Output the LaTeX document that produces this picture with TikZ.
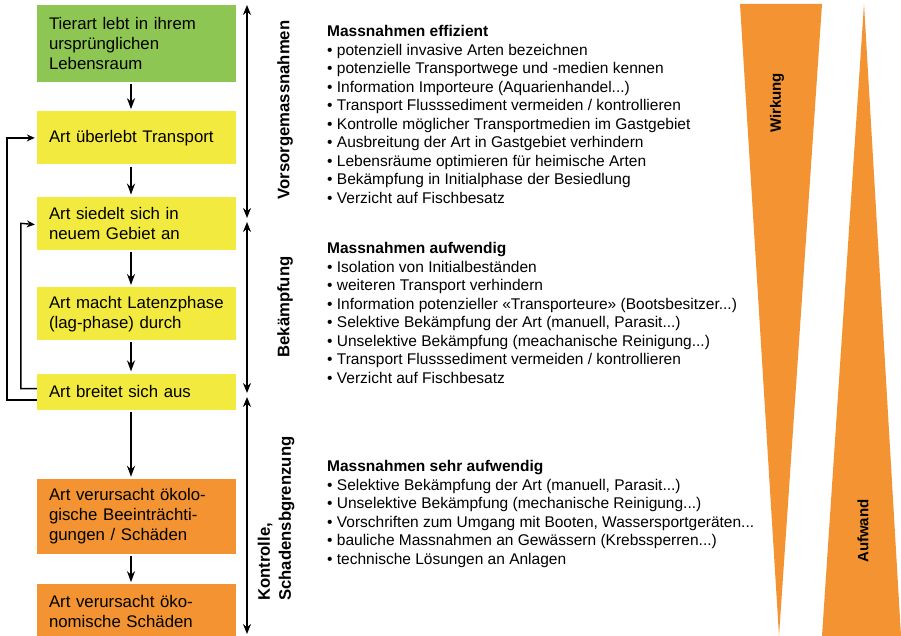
\documentclass[tikz,border=0pt]{standalone}
\usepackage{fontspec}
\setmainfont{Liberation Sans}
\usetikzlibrary{positioning, arrows.meta}
\definecolor{leafgreen}{RGB}{141,198,82}
\definecolor{boxyellow}{RGB}{243,234,64}
\definecolor{boxorange}{RGB}{243,147,50}
\tikzstyle{stage} = [rectangle, 
text width=175pt, 
inner xsep=12pt, 
inner ysep=2pt, 
align=left, 
font=\fontsize{16.8}{20}\selectfont]
\tikzstyle{origin} = [stage, fill=leafgreen]
\tikzstyle{invasion} = [stage, fill=boxyellow]
\tikzstyle{damage} = [stage, fill=boxorange]
\tikzstyle{arrow} = [line width=2pt,-{Stealth[length=11pt,width=8pt]},shorten <=2pt,shorten >=2pt]
\tikzstyle{loopback} = [line width=1.8pt,-{Stealth[length=8pt,width=7pt]},shorten >=2pt]
\tikzstyle{phase} = [line width=2pt,{Stealth[length=10pt,width=8pt]}-{Stealth[length=10pt,width=8pt]}]
\tikzstyle{phaselabel} = [rotate=90, inner sep=0pt, align=left, font=\fontsize{16.7}{21}\selectfont\bfseries]
\tikzstyle{measures} = [anchor=base west, inner sep=0pt, align=left, font=\fontsize{15.5}{18.5}\selectfont]
\tikzstyle{wedgelabel} = [rotate=90, inner sep=0pt, font=\fontsize{15}{18}\selectfont\bfseries]

\begin{document}
\begin{tikzpicture}[x=1pt, y=-1pt]
        \useasboundingbox (0,0) rectangle (901,636);
        % stages of the invasion
        \node (home) [origin, minimum height=77pt] at (136.5,43.5) {Tierart lebt in ihrem\\ursprünglichen\\Lebensraum};
        \node (transport) [invasion, minimum height=53pt, below=29pt of home] {Art überlebt Transport};
        \node (settle) [invasion, minimum height=53pt, below=32pt of transport] {Art siedelt sich in\\neuem Gebiet an};
        \node (lag) [invasion, minimum height=53pt, below=37pt of settle] {Art macht Latenzphase\\(lag-phase) durch};
        \node (spread) [invasion, minimum height=36pt, below=33pt of lag] {Art breitet sich aus};
        \node (eco) [damage, minimum height=75pt, below=69pt of spread] {Art verursacht ökolo-\\gische Beeinträchti-\\gungen / Schäden};
        \node (econ) [damage, minimum height=54pt, below=30pt of eco] {Art verursacht öko-\\nomische Schäden};
        \draw [arrow] ([xshift=-5.5pt]home.south) -- ([xshift=-5.5pt]transport.north);
        \draw [arrow] ([xshift=-5.5pt]transport.south) -- ([xshift=-5.5pt]settle.north);
        \draw [arrow] ([xshift=-5.5pt]settle.south) -- ([xshift=-5.5pt]lag.north);
        \draw [arrow] ([xshift=-5.5pt]lag.south) -- ([xshift=-5.5pt]spread.north);
        \draw [arrow] ([xshift=-5.5pt]spread.south) -- ([xshift=-5.5pt]eco.north);
        \draw [arrow] ([xshift=-5.5pt]eco.south) -- ([xshift=-5.5pt]econ.north);
        % feedback loops
        \draw [loopback] ([yshift=-8pt]spread.west) -| ([xshift=-30pt]transport.west) -- (transport.west);
        \draw [loopback, line width=1.4pt] ([yshift=3pt]spread.west) -| ([xshift=-16pt]settle.west) -- ([yshift=-1.5pt]settle.west);
        % phases
        \coordinate (p0) at (247,5);
        \coordinate (p1) at (247,220);
        \coordinate (p2) at (247,395);
        \coordinate (p3) at (247,634);
        \draw [phase, shorten >=2pt] (p0) -- (p1);
        \draw [phase, shorten <=2pt, shorten >=2pt] (p1) -- (p2);
        \draw [phase, shorten <=2pt] (p2) -- (p3);
        \node (prevent) [phaselabel] at (285,110) {Vorsorgemassnahmen};
        \node (fight) [phaselabel] at (285,307) {Bekämpfung};
        \node (control) [phaselabel, anchor=west] at (276,601) {Kontrolle,\\Schadensbgrenzung};
        % measures (anchored at the baseline of the last line)
        \node (effizient) [measures] at (327,203.5) {\textbf{Massnahmen effizient}\\
        • potenziell invasive Arten bezeichnen\\
        • potenzielle Transportwege und -medien kennen\\
        • Information Importeure (Aquarienhandel...)\\
        • Transport Flusssediment vermeiden / kontrollieren\\
        • Kontrolle möglicher Transportmedien im Gastgebiet\\
        • Ausbreitung der Art in Gastgebiet verhindern\\
        • Lebensräume optimieren für heimische Arten\\
        • Bekämpfung in Initialphase der Besiedlung\\
        • Verzicht auf Fischbesatz};
        \node (aufwendig) [measures] at (327,383.3) {\textbf{Massnahmen aufwendig}\\
        • Isolation von Initialbeständen\\
        • weiteren Transport verhindern\\
        • Information potenzieller «Transporteure» (Bootsbesitzer...)\\
        • Selektive Bekämpfung der Art (manuell, Parasit...)\\
        • Unselektive Bekämpfung (meachanische Reinigung...)\\
        • Transport Flusssediment vermeiden / kontrollieren\\
        • Verzicht auf Fischbesatz};
        \node (sehr) [measures] at (327,564) {\textbf{Massnahmen sehr aufwendig}\\
        • Selektive Bekämpfung der Art (manuell, Parasit...)\\
        • Unselektive Bekämpfung (mechanische Reinigung...)\\
        • Vorschriften zum Umgang mit Booten, Wassersportgeräten...\\
        • bauliche Massnahmen an Gewässern (Krebssperren...)\\
        • technische Lösungen an Anlagen};
        % wedges
        \fill [boxorange] (740,4) -- (822,4) -- (779,636) -- cycle;
        \fill [boxorange] (864,4) -- (901,636) -- (822,636) -- cycle;
        \node (effect) [wedgelabel] at (777,103) {Wirkung};
        \node (effort) [wedgelabel] at (863,531) {Aufwand};
    \end{tikzpicture}
\end{document}
